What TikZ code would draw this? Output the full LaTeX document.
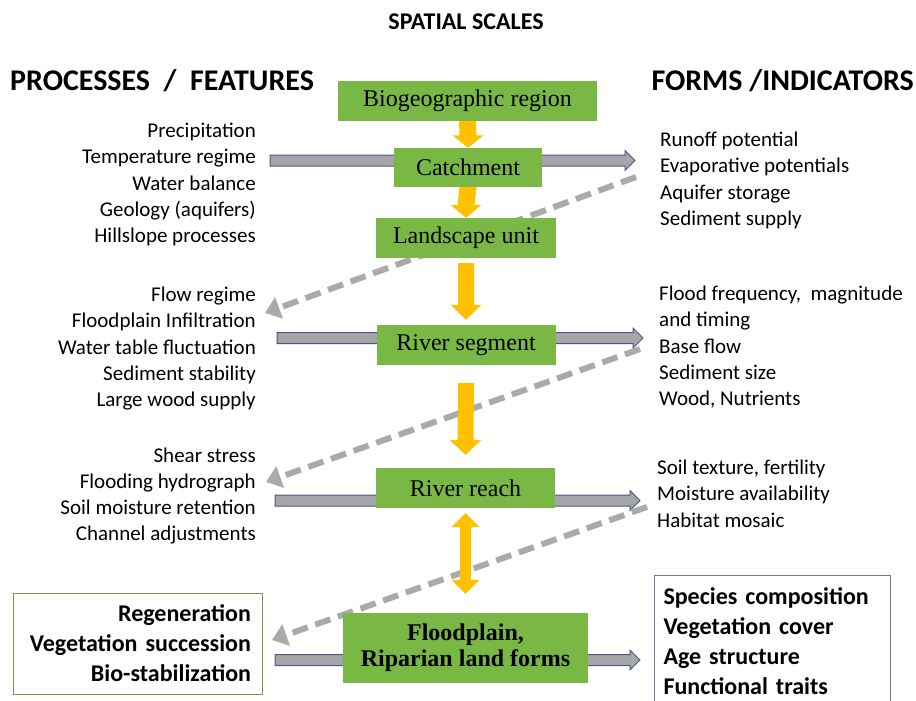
\documentclass[tikz,border=0pt]{standalone}
\usepackage{fontspec}
\setmainfont{Carlito}
\newfontfamily\unitfont{Liberation Serif}
\usetikzlibrary{positioning, calc, arrows.meta}

\definecolor{unitgreen}{RGB}{122,184,70}
\definecolor{unitorange}{RGB}{255,192,0}
\definecolor{flowgrey}{RGB}{166,166,170}
\definecolor{flowedge}{RGB}{72,90,130}
\definecolor{loopgrey}{RGB}{170,170,170}

\tikzset{
  scaleunit/.style={fill=unitgreen, minimum height=40pt, inner sep=0pt,
    font=\unitfont\fontsize{24}{26}\selectfont},
  listtext/.style={inner sep=0pt, font=\fontsize{21}{26.2}\selectfont},
  header/.style={inner sep=0pt, font=\bfseries\fontsize{30}{32}\selectfont},
  flowline/.style={fill=flowgrey, draw=flowedge, line width=1pt},
  feedback/.style={draw=loopgrey, line width=6pt, dash pattern=on 16pt off 8pt,
    -{Triangle[length=15pt,width=22pt]}},
  framebox/.style={draw, line width=1pt, inner ysep=0pt, inner xsep=10pt,
    font=\bfseries\fontsize{24}{30}\selectfont}
}

% grey block arrow, left end -> tip
\newcommand\flowarrow[2]{%
  \draw[flowline] ($(#1)+(0,-5.5)$) -- ($(#2)+(-10,-5.5)$) -- ($(#2)+(-10,-10)$)
    -- (#2) -- ($(#2)+(-10,10)$) -- ($(#2)+(-10,5.5)$) -- ($(#1)+(0,5.5)$) -- cycle;}
% orange block arrow downwards: from, tip, half shaft, half head, head length
\newcommand\scalearrow[5]{%
  \fill[unitorange] ($(#1)+(-#3,0)$) -- ($(#2)+(-#3,-#5)$) -- ($(#2)+(-#4,-#5)$)
    -- (#2) -- ($(#2)+(#4,-#5)$) -- ($(#2)+(#3,-#5)$) -- ($(#1)+(#3,0)$) -- cycle;}
% orange block arrow both ways: top tip, bottom tip
\newcommand\twowayarrow[2]{%
  \fill[unitorange] (#1) -- ($(#1)+(14,14)$) -- ($(#1)+(5.5,14)$) -- ($(#2)+(5.5,-14)$)
    -- ($(#2)+(14,-14)$) -- (#2) -- ($(#2)+(-14,-14)$) -- ($(#2)+(-5.5,-14)$)
    -- ($(#1)+(-5.5,14)$) -- ($(#1)+(-14,14)$) -- cycle;}

\begin{document}
\begin{tikzpicture}[x=1pt, y=-1pt]
\useasboundingbox (0,0) rectangle (916,701);

% headings
\node[inner sep=0pt, anchor=base, font=\bfseries\fontsize{24}{26}\selectfont] (title) at (466,30) {SPATIAL SCALES};
\node[header, anchor=base west] (prochead) at (10,90) {PROCESSES \ / \ FEATURES};
\node[header, anchor=base east] (formhead) at (914,90) {FORMS /INDICATORS};

% ends of the grey arrows
\coordinate (catchin) at (270,160.5);
\coordinate (catchout) at (635,160.5);
\coordinate (segin) at (277,338);
\coordinate (segout) at (643,338);
\coordinate (reachin) at (275,500.5);
\coordinate (reachout) at (640,500.5);
\coordinate (floodin) at (275,660);
\coordinate (floodout) at (640,660);

\flowarrow{catchin}{catchout}
\flowarrow{segin}{segout}
\flowarrow{reachin}{reachout}
\flowarrow{floodin}{floodout}

% feedback from forms to processes
\coordinate (back1a) at (636,177);
\coordinate (back1b) at (265,313);
\coordinate (back2a) at (640,349);
\coordinate (back2b) at (266,482);
\coordinate (back3a) at (647,507);
\coordinate (back3b) at (272,640);

\draw[feedback] (back1a) -- (back1b);
\draw[feedback] (back2a) -- (back2b);
\draw[feedback] (back3a) -- (back3b);

% spatial scales
\node[scaleunit, minimum width=259pt] (bio) at (467.5,101) {Biogeographic region};
\node[scaleunit, minimum width=148pt, minimum height=39pt] (catch) at (468,167.5) {Catchment};
\node[scaleunit, minimum width=180pt] (land) at (466,238) {Landscape unit};
\node[scaleunit, minimum width=179pt] (seg) at (466,345) {River segment};
\node[scaleunit, minimum width=179pt] (reach) at (465.5,488) {River reach};
\node[scaleunit, minimum width=245pt, minimum height=70pt, align=center,
  font=\unitfont\bfseries\fontsize{24}{26}\selectfont] (flood) at (465.5,648) {Floodplain,\\Riparian land forms};

\scalearrow{bio.south}{catch.north}{8.5}{15.5}{12.5}
\scalearrow{catch.south}{land.north}{8.5}{15.5}{13}
\scalearrow{$(land.south)+(0,5)$}{$(seg.north)+(0,-5)$}{8}{15.5}{15}
\scalearrow{$(seg.south)+(0,18)$}{$(reach.north)+(0,-13)$}{8}{16}{15}
\twowayarrow{$(reach.south)+(0,5)$}{$(flood.north)+(0,-19)$}

% processes
\node[listtext, anchor=north east, align=right] (proc1) at (256,123)
  {Precipitation\\Temperature regime\\Water balance\\Geology (aquifers)\\Hillslope processes};
\node[listtext, anchor=north east, align=right] (proc2) at (256,287)
  {Flow regime\\Floodplain Infiltration\\Water table fluctuation\\Sediment stability\\Large wood supply};
\node[listtext, anchor=north east, align=right] (proc3) at (256,447.5)
  {Shear stress\\Flooding hydrograph\\Soil moisture retention\\Channel adjustments};

% forms
\node[listtext, anchor=north west, align=left] (form1) at (660,132)
  {Runoff potential\\Evaporative potentials\\Aquifer storage\\Sediment supply};
\node[listtext, anchor=north west, align=left] (form2) at (659,286)
  {Flood frequency, \ magnitude\\and timing\\Base flow\\Sediment size\\Wood, Nutrients};
\node[listtext, anchor=north west, align=left] (form3) at (657,460)
  {Soil texture, fertility\\Moisture availability\\Habitat mosaic};

% floodplain level
\node[framebox, draw=gray!60!olive, minimum width=249pt, minimum height=101pt,
  text width=227pt, align=right, inner xsep=11pt] (vegproc) at (137.5,643.5)
  {Regeneration\\Vegetation succession\\Bio-stabilization};
\node[framebox, draw=flowedge!80, anchor=north west, minimum width=236pt, minimum height=132pt,
  text width=218pt, align=left, inner xsep=9pt] (vegform) at (654,575)
  {Species composition\\Vegetation cover\\Age structure\\Functional traits};
\end{tikzpicture}
\end{document}
